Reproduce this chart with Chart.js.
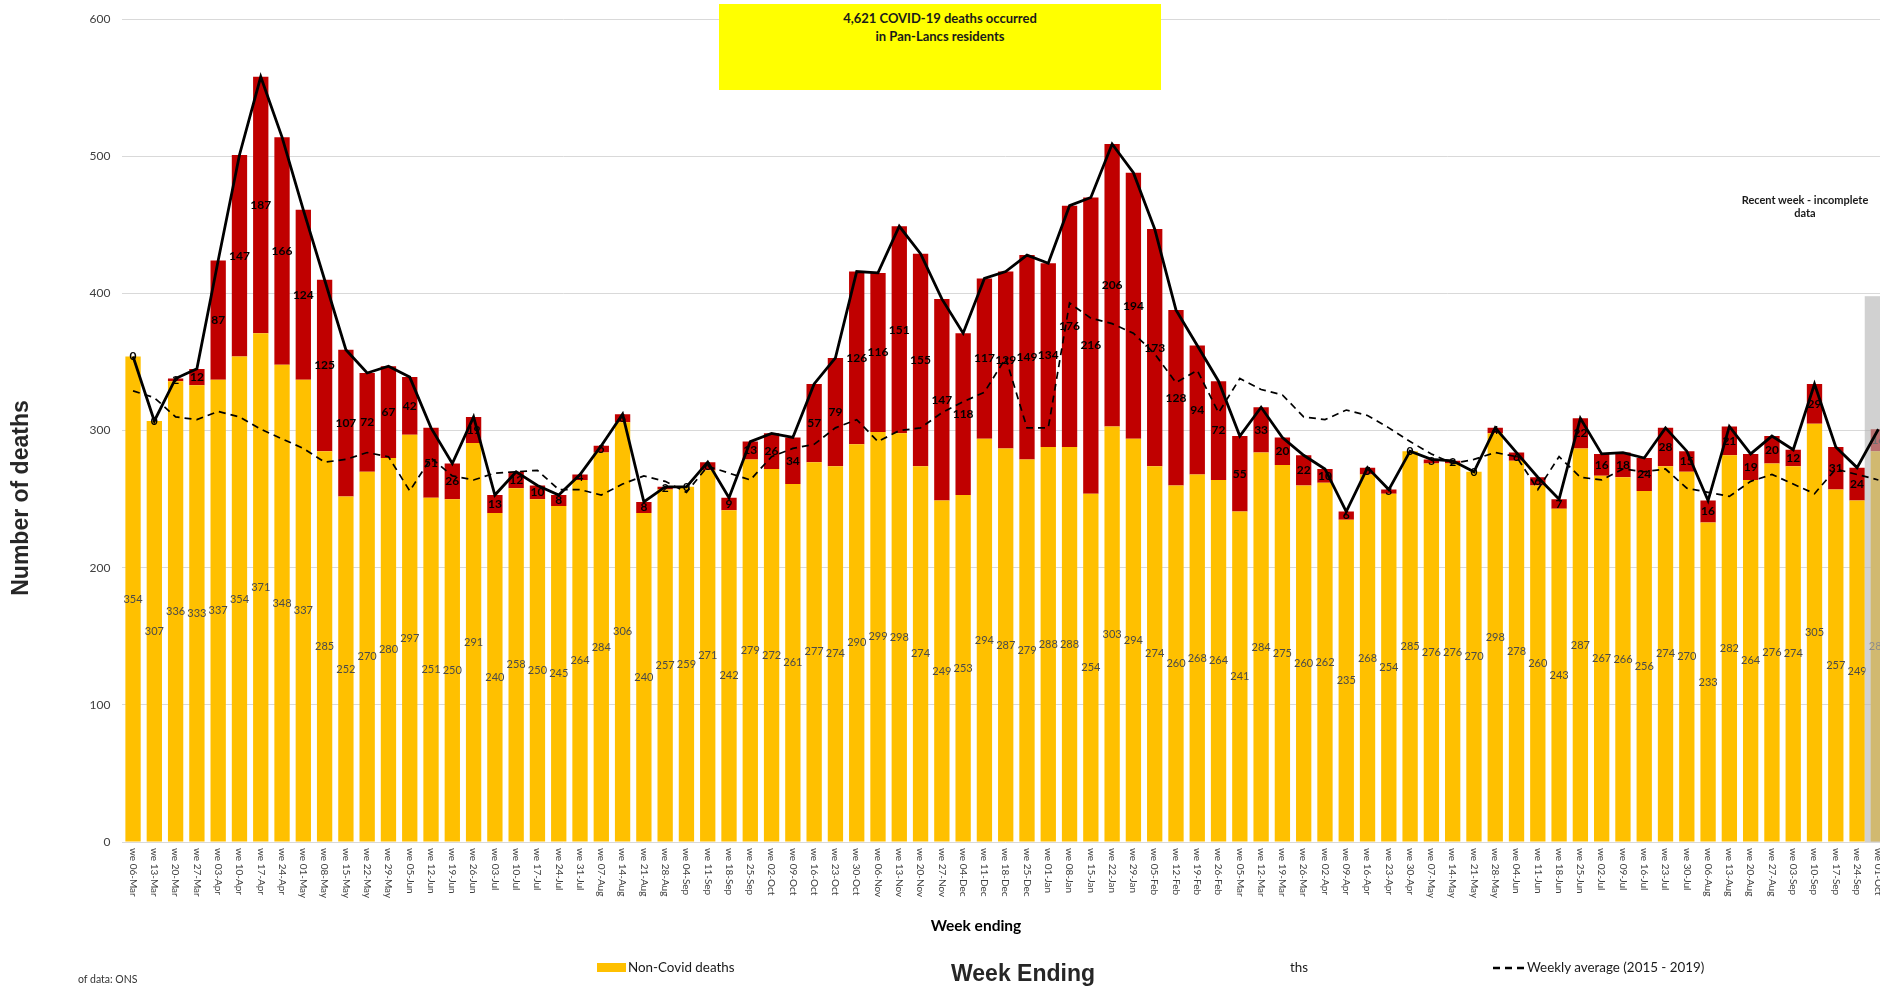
<!DOCTYPE html>
<html>
<head>
<meta charset="utf-8">
<script src="https://cdn.jsdelivr.net/npm/chart.js@4.4.1/dist/chart.umd.min.js"></script>
<style>
  body { margin: 0; background: #fff; overflow: hidden; width: 1880px; height: 989px; position: relative; font-family: Lato, sans-serif; }
  #wrap { position: absolute; left: 0; top: 0; width: 1889px; height: 989px; }
  .txt { position: absolute; white-space: nowrap; color: #1a1a1a; }
  #headline { left: 719px; top: 4px; width: 442px; height: 86px; background: #ffff00; text-align: center; font: bold 13px Lato; line-height: 18px; padding-top: 5px; box-sizing: border-box; }
  #recent { left: 1730px; top: 193px; width: 150px; text-align: center; font: bold 11px Lato; line-height: 13px; }
  #ytitle { left: -109px; top: 484px; width: 260px; height: 28px; line-height: 28px; text-align: center; transform: rotate(-90deg); font: bold 23px 'Liberation Sans', Arial, sans-serif; color: #262626; }
  #xtitle { left: 876px; top: 915px; width: 200px; text-align: center; font: bold 15.5px Lato; line-height: 20px; color: #000; }
  .leg { font: 13.4px Lato; top: 959px; line-height: 16px; }
</style>
</head>
<body>
<div id="wrap"><canvas id="myChart" width="1889" height="989"></canvas></div>
<div class="txt" id="headline">4,621 COVID-19 deaths occurred<br>in Pan-Lancs residents</div>
<div class="txt" id="recent">Recent week - incomplete<br>data</div>
<div class="txt" id="ytitle">Number of deaths</div>
<div class="txt" id="xtitle">Week ending</div>
<div class="txt" style="left:597px; top:963px; width:29px; height:9px; background:#ffc000;"></div>
<div class="txt leg" style="left:628px;">Non-Covid deaths</div>
<div class="txt" style="left:923px; top:960px; width:200px; text-align:center; font:bold 23px 'Liberation Sans', Arial, sans-serif; color:#262626;">Week Ending</div>
<div class="txt leg" style="left:1290px;">ths</div>
<svg class="txt" style="left:1493px; top:966px;" width="32" height="4"><line x1="0" y1="2" x2="32" y2="2" stroke="#000" stroke-width="2.5" stroke-dasharray="7,5"></line></svg>
<div class="txt leg" style="left:1527px;">Weekly average (2015 - 2019)</div>
<div class="txt" style="left:78px; top:973px; font:10.5px Lato; color:#333;">of data: ONS</div>

<script>
// week ending labels
var weeks = [
  "we 06-Mar", "we 13-Mar", "we 20-Mar", "we 27-Mar", "we 03-Apr", "we 10-Apr", "we 17-Apr", "we 24-Apr", "we 01-May", "we 08-May",
  "we 15-May", "we 22-May", "we 29-May", "we 05-Jun", "we 12-Jun", "we 19-Jun", "we 26-Jun", "we 03-Jul", "we 10-Jul", "we 17-Jul",
  "we 24-Jul", "we 31-Jul", "we 07-Aug", "we 14-Aug", "we 21-Aug", "we 28-Aug", "we 04-Sep", "we 11-Sep", "we 18-Sep", "we 25-Sep",
  "we 02-Oct", "we 09-Oct", "we 16-Oct", "we 23-Oct", "we 30-Oct", "we 06-Nov", "we 13-Nov", "we 20-Nov", "we 27-Nov", "we 04-Dec",
  "we 11-Dec", "we 18-Dec", "we 25-Dec", "we 01-Jan", "we 08-Jan", "we 15-Jan", "we 22-Jan", "we 29-Jan", "we 05-Feb", "we 12-Feb",
  "we 19-Feb", "we 26-Feb", "we 05-Mar", "we 12-Mar", "we 19-Mar", "we 26-Mar", "we 02-Apr", "we 09-Apr", "we 16-Apr", "we 23-Apr",
  "we 30-Apr", "we 07-May", "we 14-May", "we 21-May", "we 28-May", "we 04-Jun", "we 11-Jun", "we 18-Jun", "we 25-Jun", "we 02-Jul",
  "we 09-Jul", "we 16-Jul", "we 23-Jul", "we 30-Jul", "we 06-Aug", "we 13-Aug", "we 20-Aug", "we 27-Aug", "we 03-Sep", "we 10-Sep",
  "we 17-Sep", "we 24-Sep", "we 01-Oct"
];

var nonCovid = [
  354, 307, 336, 333, 337, 354, 371, 348, 337, 285,
  252, 270, 280, 297, 251, 250, 291, 240, 258, 250,
  245, 264, 284, 306, 240, 257, 259, 271, 242, 279,
  272, 261, 277, 274, 290, 299, 298, 274, 249, 253,
  294, 287, 279, 288, 288, 254, 303, 294, 274, 260,
  268, 264, 241, 284, 275, 260, 262, 235, 268, 254,
  285, 276, 276, 270, 298, 278, 260, 243, 287, 267,
  266, 256, 274, 270, 233, 282, 264, 276, 274, 305,
  257, 249, 285
];

var covid = [
  0, 0, 2, 12, 87, 147, 187, 166, 124, 125,
  107, 72, 67, 42, 51, 26, 19, 13, 12, 10,
  8, 4, 5, 6, 8, 2, 0, 6, 9, 13,
  26, 34, 57, 79, 126, 116, 151, 155, 147, 118,
  117, 129, 149, 134, 176, 216, 206, 194, 173, 128,
  94, 72, 55, 33, 20, 22, 10, 6, 5, 3,
  0, 3, 2, 0, 4, 6, 6, 7, 22, 16,
  18, 24, 28, 15, 16, 21, 19, 20, 12, 29,
  31, 24, 16
];

// weekly average 2015 - 2019
var average = [
  329, 324, 310, 308, 314, 310, 301, 294, 287, 277,
  279, 284, 281, 256, 280, 267, 264, 269, 270, 271,
  257, 257, 253, 261, 267, 263, 255, 274, 269, 264,
  281, 287, 290, 302, 308, 292, 300, 302, 313, 321,
  328, 353, 302, 302, 393, 382, 378, 371, 356, 335,
  344, 313, 338, 330, 326, 310, 308, 315, 311, 302,
  292, 283, 276, 279, 284, 281, 257, 281, 266, 264,
  272, 270, 272, 258, 255, 252, 263, 268, 261, 254,
  272, 268, 264
];

var yTicks = [0, 100, 200, 300, 400, 500, 600];
var incompleteTop = 398;

var total = nonCovid.map(function(v, i) { return v + covid[i]; });

// bar labels + grey "incomplete" block, drawn after the bars and before the lines
var barExtras = {
  id: "barExtras",
  afterDatasetDraw: function(chart, args) {
    if (args.index !== 0) return;
    var ctx = chart.ctx;
    var nc = chart.getDatasetMeta(0).data;
    var cv = chart.getDatasetMeta(1).data;
    ctx.save();
    ctx.textAlign = "center";
    ctx.textBaseline = "middle";
    ctx.font = "11px Lato";
    ctx.fillStyle = "#4a4a4a";
    nc.forEach(function(bar, i) {
      ctx.fillText(nonCovid[i], bar.x, (bar.y + bar.base) / 2);
    });
    ctx.font = "bold 12px Lato";
    ctx.fillStyle = "#000";
    cv.forEach(function(bar, i) {
      ctx.fillText(covid[i], bar.x, (bar.y + bar.base) / 2);
    });

    var last = nc[nc.length - 2];
    var x0 = last.x + last.width / 2;
    var y0 = chart.scales.y.getPixelForValue(incompleteTop);
    ctx.fillStyle = "rgba(180,180,180,0.62)";
    ctx.fillRect(x0, y0, chart.chartArea.right - x0, chart.chartArea.bottom - y0);
    ctx.restore();
  },
  afterDraw: function(chart) {
    var ctx = chart.ctx;
    var xs = chart.scales.x;
    ctx.save();
    ctx.font = "10px Lato";
    ctx.fillStyle = "#404040";
    ctx.textAlign = "left";
    ctx.textBaseline = "middle";
    weeks.forEach(function(w, i) {
      ctx.save();
      ctx.translate(xs.getPixelForValue(i), chart.chartArea.bottom + 6);
      ctx.rotate(Math.PI / 2);
      ctx.fillText(w, 0, 0);
      ctx.restore();
    });
    ctx.restore();
  }
};

window.onload = function() {
  var ctx = document.getElementById("myChart").getContext("2d");
  var chart = new Chart(ctx, {
    type: "bar",
    data: {
      labels: weeks,
      datasets: [
        {
          label: "Non-Covid deaths",
          data: nonCovid,
          backgroundColor: "#ffc000",
          stack: "deaths",
          order: 1,
          barPercentage: 0.72,
          categoryPercentage: 1.0
        },
        {
          label: "Covid deaths",
          data: covid,
          backgroundColor: "#c00000",
          stack: "deaths",
          order: 1,
          barPercentage: 0.72,
          categoryPercentage: 1.0
        },
        {
          type: "line",
          label: "Total deaths",
          data: total,
          stack: "total",
          order: 0,
          borderColor: "#000",
          borderWidth: 2.8,
          pointRadius: 0,
          tension: 0,
          fill: false
        },
        {
          type: "line",
          label: "Weekly average (2015 - 2019)",
          data: average,
          stack: "avg",
          order: 0,
          borderColor: "#000",
          borderWidth: 1.7,
          borderDash: [7, 5],
          pointRadius: 0,
          tension: 0,
          fill: false
        }
      ]
    },
    options: {
      responsive: false,
      animation: false,
      layout: { padding: { top: 19, left: 0, right: 0, bottom: 0 } },
      plugins: {
        legend: { display: false },
        tooltip: { enabled: false }
      },
      scales: {
        x: {
          stacked: true,
          grid: { display: false },
          border: { display: false },
          ticks: { display: false },
          afterFit: function(scale) { scale.height = 147; }
        },
        y: {
          stacked: true,
          min: 0,
          max: 600,
          afterBuildTicks: function(scale) {
            scale.ticks = yTicks.map(function(v) { return { value: v }; });
          },
          grid: { color: "#d9d9d9", drawTicks: false },
          border: { display: false },
          ticks: {
            padding: 12,
            color: "#404040",
            font: { family: "Lato", size: 12 }
          },
          afterFit: function(scale) { scale.width = 122.4; }
        }
      }
    },
    plugins: [barExtras]
  });
};
</script>
</body>
</html>
